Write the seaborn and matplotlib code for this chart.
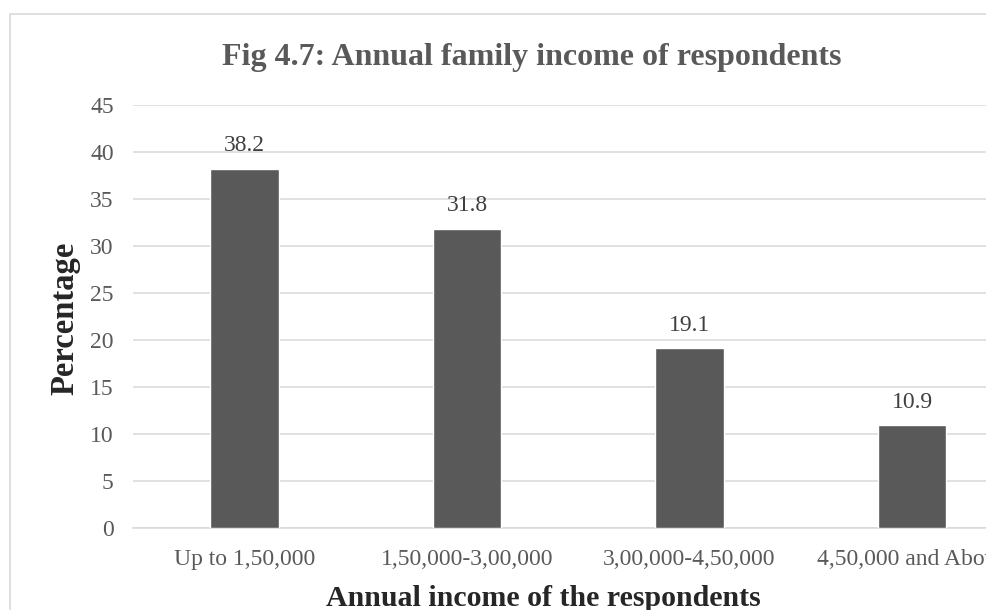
import matplotlib
matplotlib.use("Agg")
import matplotlib.pyplot as plt
import seaborn as sns
import pandas as pd
from matplotlib.patches import Rectangle

categories = ["Up to 1,50,000", "1,50,000-3,00,000", "3,00,000-4,50,000", "4,50,000 and Above"]
values = [38.2, 31.8, 19.1, 10.9]
yticks = [0, 5, 10, 15, 20, 25, 30, 35, 40, 45]

title = "Fig 4.7: Annual family income of respondents"
xlabel = "Annual income of the respondents"
ylabel = "Percentage"

sns.set_theme(style="white")
plt.rcParams["font.family"] = ["Liberation Serif", "DejaVu Serif"]

df = pd.DataFrame({"cat": categories, "val": values})

W, H = 987, 610
fig = plt.figure(figsize=(W / 100, H / 100), dpi=100)
ax_left, ax_right, ax_top, ax_bottom = 133.25, 1023.25, 105.0, 527.5
ax = fig.add_axes([ax_left / W, 1 - ax_bottom / H, (ax_right - ax_left) / W, (ax_bottom - ax_top) / H])

sns.barplot(data=df, x="cat", y="val", color="#595959", saturation=1, width=0.31, ax=ax, zorder=3)

ax.set_ylim(0, 45)
ax.set_yticks(yticks)
ax.set_yticklabels([str(t) for t in yticks])
ax.grid(axis="y", color="#d9d9d9", linewidth=1.1, zorder=0)
ax.set_axisbelow(True)
for s in ["top", "right", "left"]:
    ax.spines[s].set_visible(False)
ax.spines["bottom"].set_color("#d9d9d9")
ax.spines["bottom"].set_linewidth(1.1)
ax.tick_params(axis="both", length=0, labelsize=17, labelcolor="#595959")
ax.tick_params(axis="y", pad=14)
ax.tick_params(axis="x", pad=15.5)

ax.bar_label(ax.containers[0], fmt="%.1f", padding=9, fontsize=17, color="#404040")

ax.set_xlabel(xlabel, fontsize=21.5, fontweight="bold", color="#262626")
ax.xaxis.set_label_coords((543 - ax_left) / (ax_right - ax_left), (ax_bottom - 598) / (ax_bottom - ax_top))
ax.xaxis.label.set_va("center")
ax.set_ylabel(ylabel, fontsize=23.5, fontweight="bold", color="#262626")
ax.yaxis.set_label_coords((65 - ax_left) / (ax_right - ax_left), (ax_bottom - 318) / (ax_bottom - ax_top))
ax.yaxis.label.set_va("center")

fig.text(532 / W, 1 - 57 / H, title, ha="center", va="center", fontsize=23,
         fontweight="bold", color="#595959")

fig.patches.append(Rectangle((10 / W, -0.1), 2.0, 1 - 14 / H + 0.1, transform=fig.transFigure,
                             fill=False, edgecolor="#d9d9d9", linewidth=1.2))

fig.savefig("out.png", dpi=100)
